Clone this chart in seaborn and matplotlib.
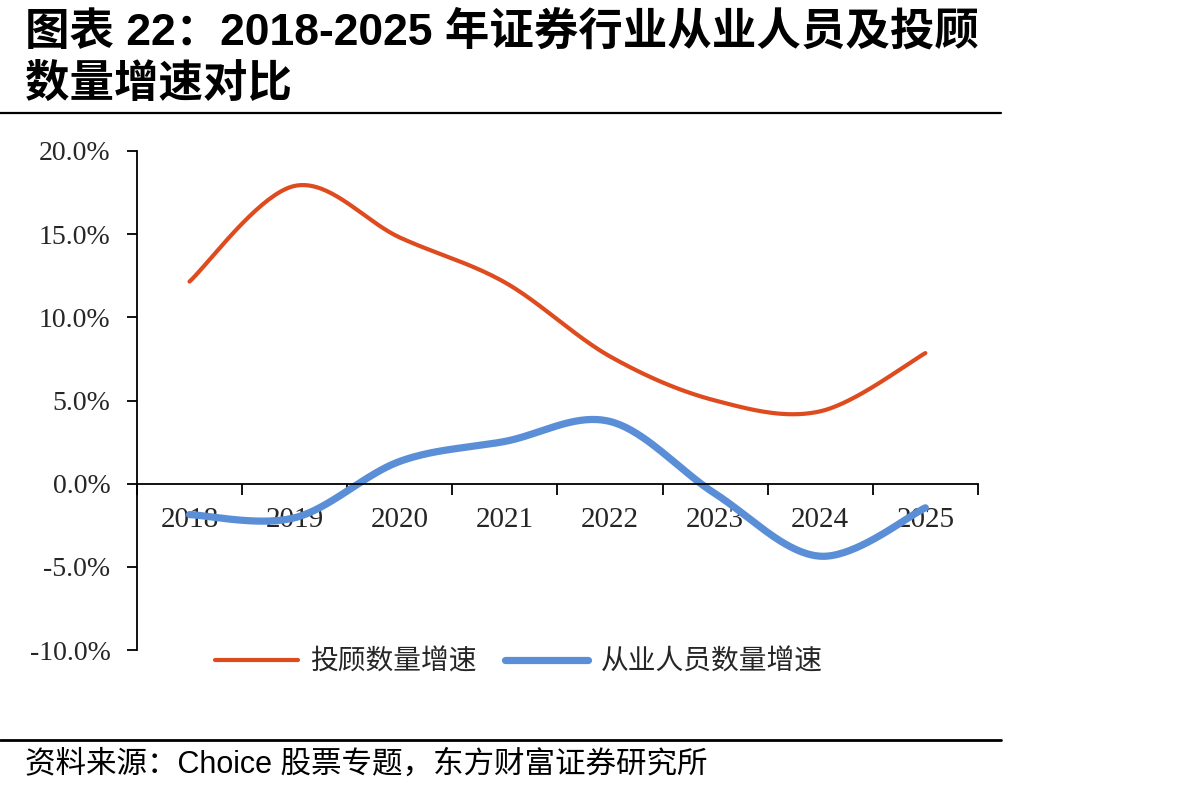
import numpy as np
import pandas as pd
import matplotlib.pyplot as plt
import seaborn as sns

# Data
years = ['2018', '2019', '2020', '2021', '2022', '2023', '2024', '2025']
advisor_growth = [12.15, 17.9, 14.8, 12.1, 7.65, 5.0, 4.35, 7.85]      # 投顾数量增速 (%)
staff_growth = [-1.86, -2.05, 1.34, 2.54, 3.74, -0.6, -4.36, -1.45]    # 从业人员数量增速 (%)

title_1 = '图表 22：2018-2025 年证券行业从业人员及投顾'
title_2 = '数量增速对比'
source = '资料来源：Choice 股票专题，东方财富证券研究所'
y_ticks = [-10, -5, 0, 5, 10, 15, 20]

ORANGE = '#DE4B1E'
BLUE = '#5A8FD8'

sns.set_theme(style='white')
plt.rcParams['font.family'] = ['Liberation Sans', 'Noto Sans CJK SC', 'DejaVu Sans']


def smooth(values, n=40):
    # Excel-style smoothed line: cubic Bezier between points
    p = np.array(values, dtype=float)
    x = np.arange(len(p), dtype=float)
    pts = np.column_stack([x, p])
    ext = np.vstack([pts[0], pts, pts[-1]])
    out = []
    t = np.linspace(0, 1, n)[:, None]
    for i in range(len(pts) - 1):
        p0 = ext[i + 1]
        p3 = ext[i + 2]
        c1 = p0 + (ext[i + 2] - ext[i]) / 6
        c2 = p3 - (ext[i + 3] - ext[i + 1]) / 6
        seg = ((1 - t) ** 3) * p0 + 3 * ((1 - t) ** 2) * t * c1 + 3 * (1 - t) * t ** 2 * c2 + t ** 3 * p3
        out.append(seg if i == 0 else seg[1:])
    out = np.vstack(out)
    return out[:, 0], out[:, 1]


fig = plt.figure(figsize=(11.92, 7.93), dpi=100)
ax = fig.add_axes([0.1149, 0.1803, 0.7055, 0.6293])

xs, ys = smooth(advisor_growth)
df_a = pd.DataFrame({'x': xs, 'y': ys})
xs, ys = smooth(staff_growth)
df_s = pd.DataFrame({'x': xs, 'y': ys})

sns.lineplot(data=df_a, x='x', y='y', color=ORANGE, linewidth=3, sort=False,
             label='投顾数量增速', ax=ax)
sns.lineplot(data=df_s, x='x', y='y', color=BLUE, linewidth=5.2, sort=False,
             label='从业人员数量增速', ax=ax)

ax.set_xlim(-0.5, len(years) - 0.5)
ax.set_ylim(-10, 20)
ax.set_xlabel('')
ax.set_ylabel('')

# axes styling
for s in ['top', 'right']:
    ax.spines[s].set_visible(False)
ax.spines['bottom'].set_position(('data', 0))
for s in ['left', 'bottom']:
    ax.spines[s].set_color('black')
    ax.spines[s].set_linewidth(1.3)

ax.set_yticks(y_ticks)
ax.set_yticklabels([f'{v:.1f}%' for v in y_ticks], fontfamily='Liberation Serif', fontsize=20)
ax.tick_params(axis='y', direction='out', length=7, width=1.3, color='black', pad=12, left=True)

ax.set_xticks(range(len(years)))
ax.set_xticklabels(years, fontfamily='Liberation Serif', fontsize=21)
ax.set_xticks(np.arange(-0.5, len(years), 1), minor=True)
ax.tick_params(axis='x', which='major', length=0, pad=17)
ax.tick_params(axis='x', which='minor', direction='out', length=8, width=1.3, color='black', bottom=True)

ax.legend_.remove()
handles, labels = ax.get_legend_handles_labels()
fig.legend(handles, labels, loc='center', bbox_to_anchor=(0.435, 0.166), ncol=2,
           frameon=False, handlelength=3.0, columnspacing=1.0, handletextpad=0.45,
           prop={'family': 'Noto Sans CJK SC', 'size': 20})

# title, rules and source
fig.text(0.021, 1 - 32 / 793, title_1, ha='left', va='center', fontsize=32, fontweight='bold',
         color='black')
fig.text(0.021, 1 - 85 / 793, title_2, ha='left', va='center', fontsize=32, fontweight='bold',
         color='black')
fig.add_artist(plt.Line2D([0, 0.84], [1 - 113 / 793] * 2, color='black', linewidth=1.6))
fig.add_artist(plt.Line2D([0, 0.84], [1 - 740 / 793] * 2, color='black', linewidth=2))
fig.text(0.021, 1 - 765 / 793, source, ha='left', va='center', fontsize=22, color='black')

fig.savefig('out.png', dpi=100, facecolor='white')
